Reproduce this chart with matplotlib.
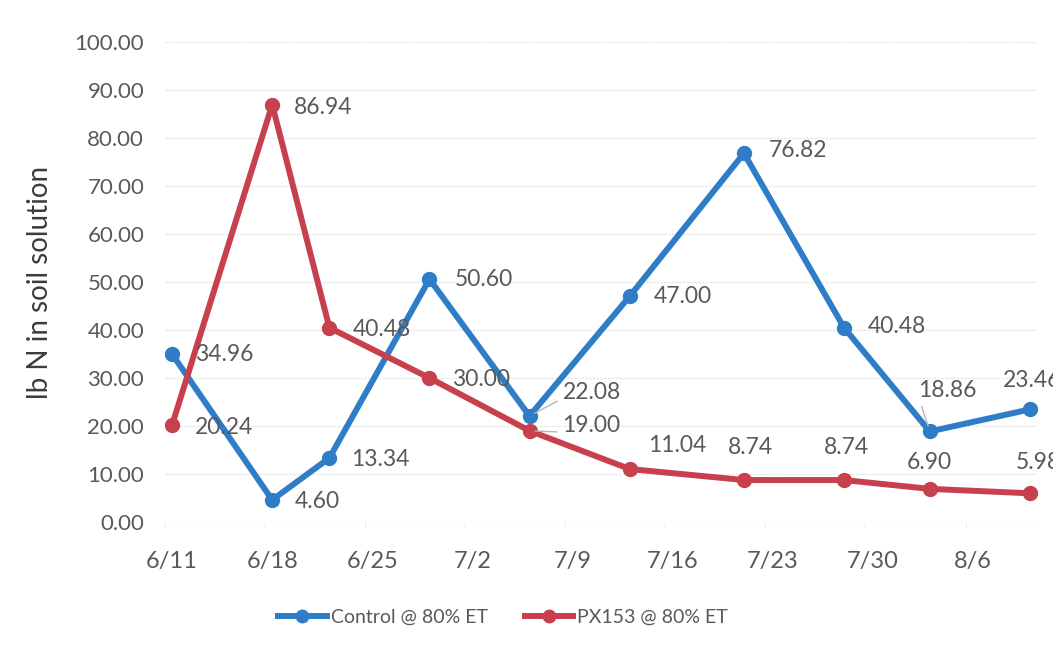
import matplotlib
matplotlib.use("Agg")
import matplotlib.pyplot as plt
import matplotlib.dates as mdates
from matplotlib.lines import Line2D
from matplotlib.ticker import FixedLocator, FuncFormatter
import pandas as pd

# Sampling dates and nitrogen readings (lb N in soil solution)
sample_dates = ["6/11", "6/18", "6/22", "6/29", "7/6", "7/13", "7/21", "7/28", "8/3", "8/10"]
control = [34.96, 4.60, 13.34, 50.60, 22.08, 47.00, 76.82, 40.48, 18.86, 23.46]
px153 = [20.24, 86.94, 40.48, 30.00, 19.00, 11.04, 8.74, 8.74, 6.90, 5.98]
tick_labels = ["6/11", "6/18", "6/25", "7/2", "7/9", "7/16", "7/23", "7/30", "8/6"]
series_names = ["Control @ 80% ET", "PX153 @ 80% ET"]

YEAR = 2019
x = mdates.date2num(pd.to_datetime([f"{YEAR}/{d}" for d in sample_dates]))
ticks = mdates.date2num(pd.to_datetime([f"{YEAR}/{d}" for d in tick_labels]))

BLUE = "#2F7DC6"
RED = "#C8404E"
TXT = "#595959"
FONT = "Lato"

plt.rcParams["font.family"] = [FONT, "DejaVu Sans"]

fig = plt.figure(figsize=(10.53, 6.54), dpi=100)
W, H = 1053, 654
ax = fig.add_axes([165 / W, 1 - 522 / H, (1037 - 165) / W, (522 - 42) / H])

ax.plot(x, control, color=BLUE, lw=4.3, marker="o", ms=10, zorder=3,
        solid_joinstyle="round", solid_capstyle="round")
ax.plot(x, px153, color=RED, lw=4.3, marker="o", ms=10, zorder=3,
        solid_joinstyle="round", solid_capstyle="round")

ax.set_xlim(x[0] - 0.5, x[-1] + 0.5)
ax.set_ylim(0, 100)
ax.set_yticks(range(0, 101, 10))
ax.yaxis.set_major_formatter(FuncFormatter(lambda v, p: f"{v:.2f}"))
ax.grid(axis="y", color="#e6e6e6", lw=0.9, ls=(0, (2, 1)))
ax.set_axisbelow(True)

# weekly labels centred on each day, faint tick marks on day boundaries
ax.xaxis.set_major_locator(FixedLocator(ticks))
ax.set_xticklabels(tick_labels)
ax.xaxis.set_minor_locator(FixedLocator(ticks - 0.5))
ax.tick_params(axis="x", which="major", length=0, pad=21, labelsize=17, colors=TXT)
ax.tick_params(axis="x", which="minor", length=4, color="#ececec", width=0.8)
ax.tick_params(axis="y", length=0, pad=15, labelsize=16, colors=TXT)
for s in ax.spines.values():
    s.set_visible(False)

ax.set_ylabel("lb N in soil solution", fontsize=20, color="#3c3c3c")
ax.yaxis.set_label_coords(-112 / (1037 - 165), 0.5)

# data labels: (dx, dy, horizontal alignment, leader line) in pixels
control_pos = [(23, 0, "left", False), (23, -2, "left", False), (22, -2, "left", False),
               (25, 0, "left", False), (33, 24, "left", True), (24, 0, "left", False),
               (25, 3, "left", False), (24, 1, "left", False), (18, 41, "center", True),
               (2, 29, "center", False)]
px_pos = [(23, -3, "left", False), (22, -3, "left", False), (23, -2, "left", False),
          (23, -2, "left", False), (33, 5, "left", True), (48, 24, "center", False),
          (6, 33, "center", False), (2, 33, "center", False), (0, 26, "center", False),
          (8, 31, "center", False)]

for vals, pos in ((control, control_pos), (px153, px_pos)):
    for xi, v, (dx, dy, ha, lead) in zip(x, vals, pos):
        kw = {}
        if lead:
            kw["arrowprops"] = dict(arrowstyle="-", color="#b5b5b5", lw=1.0,
                                    shrinkA=2, shrinkB=4, relpos=(0, 0.2))
        ax.annotate(f"{v:.2f}", (xi, v), xytext=(dx, dy), textcoords="offset pixels",
                    ha=ha, va="center", fontsize=16.5, color=TXT, zorder=4,
                    annotation_clip=False, **kw)

handles = [Line2D([], [], color=c, lw=4.3, marker="o", ms=9) for c in (BLUE, RED)]
fig.legend(handles, series_names, loc="center", bbox_to_anchor=(503 / W, 1 - 617 / H),
           ncol=2, frameon=False, fontsize=14, labelcolor=TXT, handlelength=2.5,
           handletextpad=0.2, columnspacing=1.9)

fig.savefig("out.png", dpi=100, facecolor="white")
